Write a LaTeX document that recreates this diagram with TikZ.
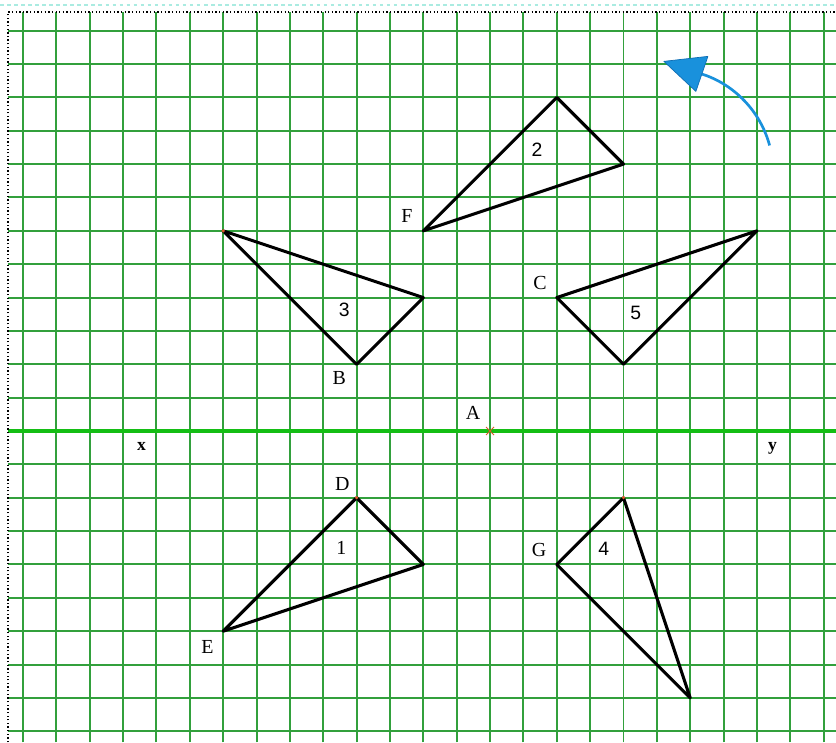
\documentclass[tikz,border=0pt]{standalone}
\usepackage{fontspec}
\usetikzlibrary{calc}
\setmainfont{Liberation Serif}
\newfontfamily\digitfont{Liberation Sans}
\definecolor{gridgreen}{RGB}{50,160,60}
\definecolor{axisgreen}{RGB}{20,190,20}
\definecolor{arrowblue}{RGB}{25,145,220}
\definecolor{markorange}{RGB}{220,90,40}
\definecolor{faintcyan}{RGB}{170,235,225}
\begin{document}
\begin{tikzpicture}[
  gridline/.style={gridgreen, line width=1.7pt},
  axisline/.style={axisgreen, line width=2.8pt},
  tri/.style={black, line width=2.6pt, line join=round},
  lbl/.style={font=\fontsize{17}{17}\selectfont, inner sep=0pt},
  num/.style={font=\digitfont\fontsize{16.5}{16.5}\selectfont, inner sep=0pt},
  axlbl/.style={font=\bfseries\fontsize{15}{15}\selectfont, inner sep=0pt},
  vdot/.style={fill=markorange, inner sep=0pt, minimum size=3pt, circle}
]
\useasboundingbox[fill=white] (-14.69,-9.33) rectangle (10.37,12.92);
% faint top dashed line
\draw[faintcyan, line width=1pt, dash pattern=on 3pt off 3pt] (-14.69,12.77) -- (10.37,12.77);
% grid
\draw[gridline] foreach \i in {-14,...,10} {(\i,-9.33) -- (\i,12.56)};
\draw[gridline] foreach \j in {-9,...,12} {(-14.45,\j) -- (10.37,\j)};
% x axis
\draw[axisline] (-14.45,0) -- (10.37,0);
% frame
\draw[black, line width=1.1pt, dotted] (-14.45,-9.33) -- (-14.45,12.56) -- (10.37,12.56);
% origin mark
\coordinate (A) at (0,0);
\draw[markorange, line width=0.8pt] ($(A)+(-0.12,-0.12)$) -- ($(A)+(0.12,0.12)$);
\draw[markorange, line width=0.8pt] ($(A)+(-0.12,0.12)$) -- ($(A)+(0.12,-0.12)$);
% triangle 1
\coordinate (D) at (-4,-2); \coordinate (t1r) at (-2,-4); \coordinate (E) at (-8,-6);
\draw[tri] (D) -- (t1r) -- (E) -- cycle;
% triangle 2
\coordinate (t2t) at (2,10); \coordinate (t2r) at (4,8); \coordinate (F) at (-2,6);
\draw[tri] (t2t) -- (t2r) -- (F) -- cycle;
% triangle 3
\coordinate (t3l) at (-8,6); \coordinate (t3r) at (-2,4); \coordinate (B) at (-4,2);
\draw[tri] (t3l) -- (t3r) -- (B) -- cycle;
% triangle 4
\coordinate (t4t) at (4,-2); \coordinate (G) at (2,-4); \coordinate (t4b) at (6,-8);
\draw[tri] (t4t) -- (G) -- (t4b) -- cycle;
% triangle 5
\coordinate (t5r) at (8,6); \coordinate (C) at (2,4); \coordinate (t5b) at (4,2);
\draw[tri] (t5r) -- (C) -- (t5b) -- cycle;
% vertex dots
\node[vdot] (dD) at (D) {};
\node[vdot] (dt4) at (t4t) {};
\node[vdot] (dt3) at (t3l) {};
% letters
\node[lbl] (lF) at (-2.49,6.46) {F};
\node[lbl] (lC) at (1.5,4.44) {C};
\node[lbl] (lB) at (-4.52,1.59) {B};
\node[lbl] (lA) at (-0.51,0.54) {A};
\node[lbl] (lD) at (-4.43,-1.59) {D};
\node[lbl] (lE) at (-8.47,-6.46) {E};
\node[lbl] (lG) at (1.47,-3.57) {G};
\node[axlbl] (lx) at (-10.45,-0.45) {x};
\node[axlbl] (ly) at (8.47,-0.51) {y};
% numbers
\node[num] (n2) at (1.41,8.44) {2};
\node[num] (n3) at (-4.37,3.63) {3};
\node[num] (n5) at (4.37,3.54) {5};
\node[lbl] (n1) at (-4.46,-3.51) {1};
\node[num] (n4) at (3.41,-3.54) {4};
% rotation arrow
\coordinate (arS) at (8.38,8.56);
\coordinate (arB) at (6.35,10.70);
\coordinate (arT) at (5.21,11.08);
\coordinate (arH1) at (6.53,11.23);
\coordinate (arH2) at (6.17,10.18);
\draw[arrowblue, line width=2.3pt] (arS) .. controls (8.1,9.6) and (7.3,10.4) .. (arB);
\fill[arrowblue, draw={rgb,255:red,15;green,110;blue,180}, line width=0.6pt, line join=round] (arT) -- (arH1) -- (arH2) -- cycle;
\end{tikzpicture}
\end{document}
